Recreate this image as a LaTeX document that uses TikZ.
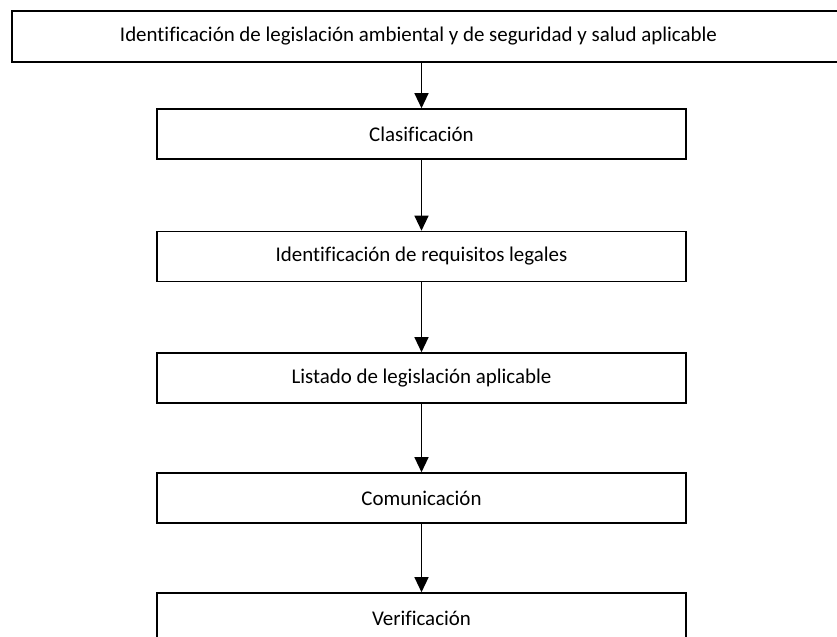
\documentclass[tikz,border=0pt]{standalone}
\usepackage{fontspec}
\setmainfont{Carlito}[Ligatures={NoCommon}]
\usepackage{tikz}
\usetikzlibrary{arrows.meta}

\begin{document}
\begin{tikzpicture}[x=1bp,y=-1bp,
	stepbox/.style={draw, line width=1.6pt, minimum width=529bp, minimum height=50bp, inner sep=0pt, font=\fontsize{21}{25}\selectfont},
	flow/.style={-{Triangle[width=14bp,length=15bp]}, line width=1.3pt}]
	% fix the page size
	\clip (0,0) rectangle (837,637);
	% the top box runs past the right side
	\node[stepbox, minimum width=840bp, minimum height=51bp] (legis) at (432,36.5) {Identificación de legislación ambiental y de seguridad y salud aplicable\hspace*{27bp}};
	% the steps
	\node[stepbox] (clasif) at (421.5,134) {Clasificación};
	\node[stepbox] (requis) at (421.5,256.5) {Identificación de requisitos legales};
	\node[stepbox] (listado) at (421.5,378) {Listado de legislación aplicable};
	\node[stepbox] (comunic) at (421.5,498) {Comunicación};
	\node[stepbox] (verif) at (421.5,618) {Verificación};
	% arrows between them
	\draw[flow] (legis.south -| clasif) -- (clasif);
	\draw[flow] (clasif) -- (requis);
	\draw[flow] (requis) -- (listado);
	\draw[flow] (listado) -- (comunic);
	\draw[flow] (comunic) -- (verif);
\end{tikzpicture}
\end{document}
